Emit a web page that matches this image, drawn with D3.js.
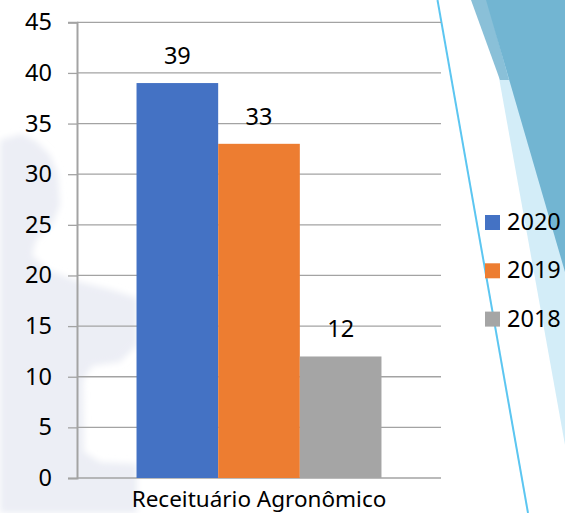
<!DOCTYPE html>
<html>
<head>
<meta charset="utf-8">
<style>
  body { margin: 0; background: #fff; }
  svg { display: block; }
  text { font-family: "Noto Sans", sans-serif; fill: #000; }
</style>
</head>
<body>
<div id="chart-area"></div>
<script src="https://d3js.org/d3.v7.min.js"></script>
<script>
  // data
  var categories = ["Receituário Agronômico"];
  var seriesNames = ["2020", "2019", "2018"];
  var seriesValues = [39, 33, 12];
  var seriesColors = ["#4472C4", "#ED7D31", "#A5A5A5"];
  var yTicks = [0, 5, 10, 15, 20, 25, 30, 35, 40, 45];

  var width = 565, height = 513;
  var plot = {left: 77, right: 441, top: 22.3, bottom: 478};

  var svg = d3.select("#chart-area").append("svg")
      .attr("width", width)
      .attr("height", height);

  // slide background decorations
  var defs = svg.append("defs");
  defs.append("filter").attr("id", "soft")
      .append("feGaussianBlur").attr("stdDeviation", 3);

  svg.append("path")
      .attr("d", "M0,140 L22,134 L36,141 L50,155 L58,175 L60,205 L52,225 L36,240 L32,255 L48,270 L80,282 L112,290 L137,298 L137,345 L120,362 L92,366 L83,380 L84,452 L100,462 L137,464 L137,513 L0,513 Z")
      .attr("fill", "#ECEEF5")
      .attr("filter", "url(#soft)");

  svg.append("polygon")
      .attr("points", "485,0 565,0 565,445")
      .attr("fill", "#D3EDF8");
  svg.append("polygon")
      .attr("points", "471,0 487,0 509,80 500,80")
      .attr("fill", "#8AC0D8");
  svg.append("polygon")
      .attr("points", "486,0 565,0 565,272")
      .attr("fill", "#72B5D2");
  svg.append("line")
      .attr("x1", 437.5).attr("y1", 0)
      .attr("x2", 528).attr("y2", 513)
      .attr("stroke", "#5CC6F1")
      .attr("stroke-width", 2);

  var y = d3.scaleLinear()
      .domain([0, 45])
      .range([plot.bottom, plot.top]);

  var x0 = d3.scaleBand()
      .domain(categories)
      .range([plot.left, plot.right])
      .paddingInner(0)
      .paddingOuter(0.243);

  var x1 = d3.scaleBand()
      .domain(seriesNames)
      .range([0, x0.bandwidth()]);

  // gridlines
  svg.append("g")
    .selectAll("line")
    .data(yTicks)
    .enter().append("line")
      .attr("x1", plot.left)
      .attr("x2", plot.right)
      .attr("y1", d => y(d))
      .attr("y2", d => y(d))
      .attr("stroke", "#A3A3A3")
      .attr("stroke-width", 1.3);

  // y axis
  var yAxis = svg.append("g")
      .attr("transform", "translate(" + plot.left + ",0)")
      .call(d3.axisLeft(y).tickValues(yTicks).tickSize(9).tickPadding(16));
  yAxis.select(".domain").attr("stroke", "#A3A3A3").attr("stroke-width", 2);
  yAxis.selectAll(".tick line").attr("stroke", "#A3A3A3").attr("stroke-width", 1.3);
  yAxis.selectAll(".tick text")
      .style("font-family", "'Noto Sans', sans-serif")
      .style("font-size", "23.5px")
      .attr("fill", "#000");

  // bars
  var group = svg.append("g")
      .attr("transform", "translate(" + x0(categories[0]) + ",0)");

  group.selectAll("rect")
    .data(seriesValues)
    .enter().append("rect")
      .attr("x", (d, i) => x1(seriesNames[i]))
      .attr("width", x1.bandwidth())
      .attr("y", d => y(d))
      .attr("height", d => y(0) - y(d))
      .attr("fill", (d, i) => seriesColors[i]);

  group.selectAll("text.label")
    .data(seriesValues)
    .enter().append("text")
      .attr("class", "label")
      .attr("x", (d, i) => x1(seriesNames[i]) + x1.bandwidth() / 2)
      .attr("y", d => y(d) - 19)
      .attr("text-anchor", "middle")
      .style("font-size", "23.5px")
      .text(d => d);

  // category label
  svg.append("text")
      .attr("x", x0(categories[0]) + x0.bandwidth() / 2)
      .attr("y", 506.5)
      .attr("text-anchor", "middle")
      .style("font-size", "22.5px")
      .text(categories[0]);

  // legend
  var legend = svg.append("g")
      .selectAll("g")
      .data(seriesNames)
      .enter().append("g")
      .attr("transform", (d, i) => "translate(485," + (215 + i * 48.3) + ")");

  legend.append("rect")
      .attr("width", 15)
      .attr("height", 15)
      .attr("fill", (d, i) => seriesColors[i]);

  legend.append("text")
      .attr("x", 22)
      .attr("y", 15)
      .style("font-size", "23.5px")
      .text(d => d);
</script>
</body>
</html>
